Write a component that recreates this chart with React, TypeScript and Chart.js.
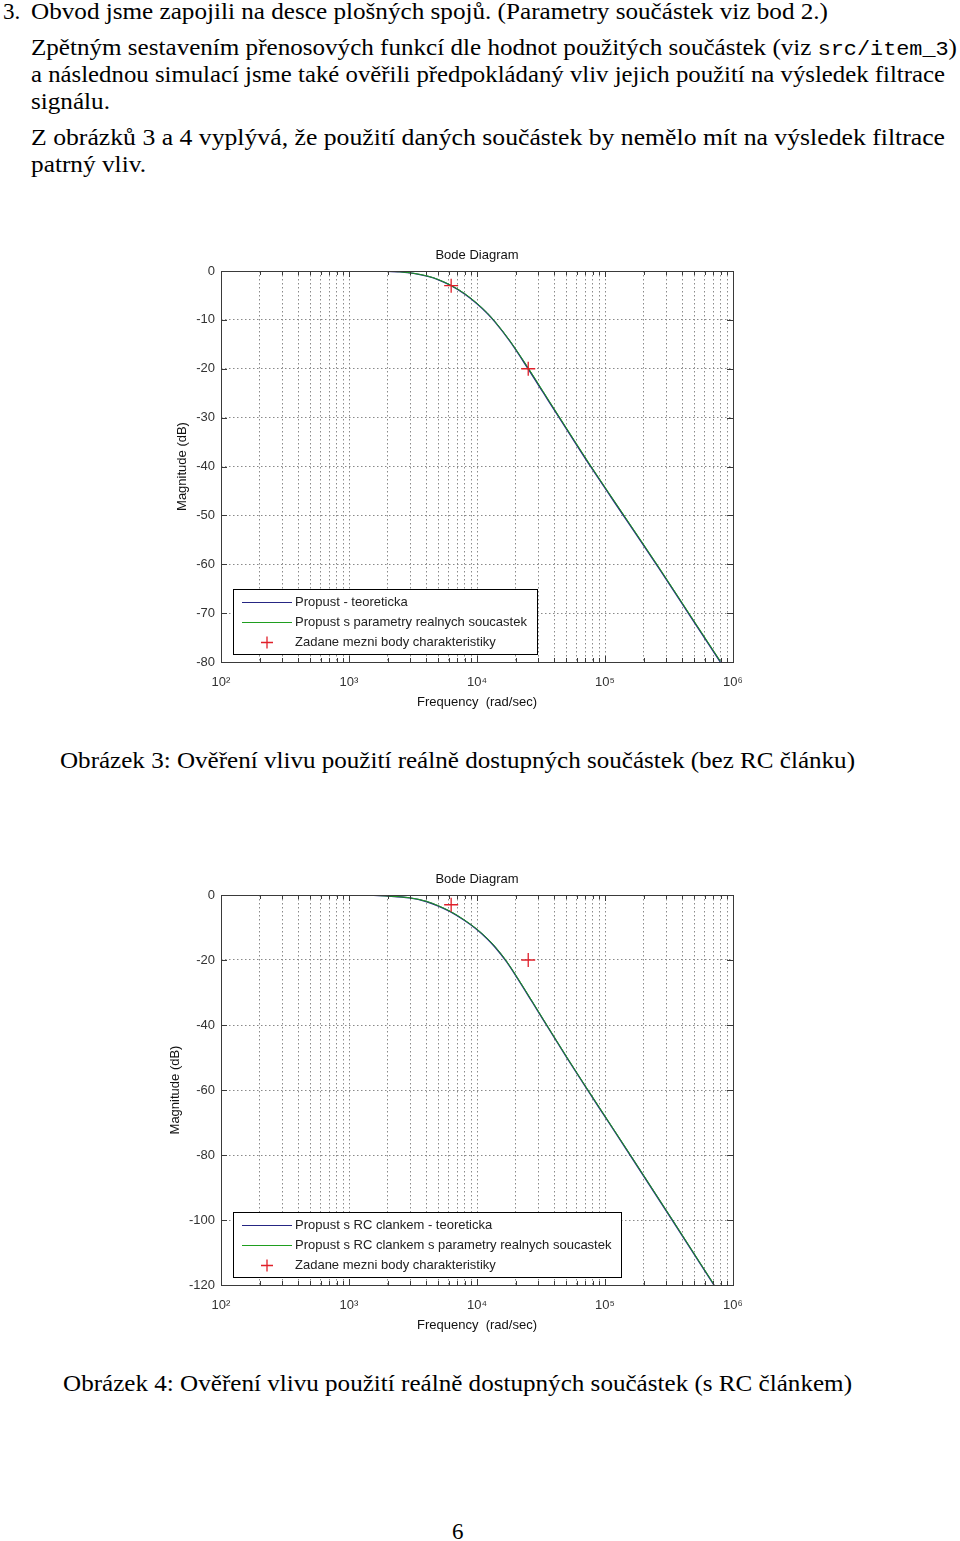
import React, { useEffect, useRef } from 'react';
import { Chart, registerables } from 'chart.js';

Chart.register(...registerables);

// ---------- DATA ----------
// Figure 3 (bez RC clanku)
const fig3Freq = [1800, 2500, 3200, 4140, 5000, 6283, 8000, 10000, 12000, 13800, 18000, 25100, 33000, 42900, 57800, 78100, 142600, 259000, 458000, 796000];
const fig3Teoreticka = [0, -0.17, -0.49, -1.1, -1.8, -3.0, -4.7, -6.7, -8.65, -10.4, -14.3, -20.0, -24.9, -29.6, -34.9, -40.2, -50.4, -60.5, -70.4, -80.0];
const fig3Realna = [0, -0.16, -0.47, -1.05, -1.75, -2.95, -4.6, -6.6, -8.55, -10.3, -14.2, -19.8, -24.7, -29.4, -34.7, -40.0, -50.2, -60.3, -70.2, -79.8];

// Figure 4 (s RC clankem)
const fig4Freq = [1380, 2000, 2970, 4000, 5000, 6180, 8000, 9860, 12000, 13800, 17000, 20600, 27000, 33900, 50600, 72000, 100000, 157000, 335000, 710000];
const fig4Teoreticka = [0, -0.3, -0.9, -2.0, -3.4, -5.15, -7.85, -10.45, -13.45, -16.0, -20.5, -25.5, -32.9, -39.2, -50.2, -59.6, -68.2, -80.0, -100.0, -120.0];
const fig4Realna = [0, -0.3, -0.85, -1.9, -3.3, -5.0, -7.7, -10.3, -13.3, -15.8, -20.3, -25.3, -32.7, -39.0, -50.0, -59.4, -68.0, -79.8, -99.8, -119.8];

// Zadane mezni body charakteristiky
const markerFreq = [6283, 25133];
const markerDb = [-3, -20];

// Axis ticks
const xTickValues = [
  100, 200, 300, 400, 500, 600, 700, 800, 900,
  1000, 2000, 3000, 4000, 5000, 6000, 7000, 8000, 9000,
  10000, 20000, 30000, 40000, 50000, 60000, 70000, 80000, 90000,
  100000, 200000, 300000, 400000, 500000, 600000, 700000, 800000, 900000,
  1000000,
];
const xMajorValues = [100, 1000, 10000, 100000, 1000000];
const xMajorLabels = ['10²', '10³', '10⁴', '10⁵', '10⁶'];

const fig3Labels = ['Propust - teoreticka', 'Propust s parametry realnych soucastek', 'Zadane mezni body charakteristiky'];
const fig4Labels = ['Propust s RC clankem - teoreticka', 'Propust s RC clankem s parametry realnych soucastek', 'Zadane mezni body charakteristiky'];

// ---------- STYLE ----------
const FONT = "'Liberation Sans', Arial, sans-serif";
const BLUE = '#262683';
const GREEN = '#1f9e1f';
const RED = '#e0202a';
const GRID = '#8a8a8a';
const TEXT = '#222';
const AXIS = '#3a3a3a';

const frameTicks = {
  id: 'frameTicks',
  afterDatasetsDraw(chart: any) {
    const { ctx, chartArea } = chart;
    const { left, right, top, bottom } = chartArea;
    const xs = chart.scales.x;
    const ys = chart.scales.y;
    ctx.save();
    ctx.strokeStyle = AXIS;
    ctx.lineWidth = 1;
    ctx.beginPath();
    xs.ticks.forEach((t: any) => {
      const px = Math.round(xs.getPixelForValue(t.value)) + 0.5;
      if (px <= left + 1 || px >= right - 1) return;
      const len = xMajorValues.includes(t.value) ? 6 : 4;
      ctx.moveTo(px, bottom);
      ctx.lineTo(px, bottom - len);
      ctx.moveTo(px, top);
      ctx.lineTo(px, top + len);
    });
    ys.ticks.forEach((t: any) => {
      const py = Math.round(ys.getPixelForValue(t.value)) + 0.5;
      if (py <= top + 1 || py >= bottom - 1) return;
      ctx.moveTo(left, py);
      ctx.lineTo(left + 6, py);
      ctx.moveTo(right, py);
      ctx.lineTo(right - 6, py);
    });
    ctx.stroke();
    ctx.strokeRect(Math.round(left) + 0.5, Math.round(top) + 0.5, Math.round(right - left), Math.round(bottom - top));
    ctx.restore();
  },
};

const plotTitle = {
  id: 'plotTitle',
  afterDraw(chart: any) {
    const { ctx, chartArea } = chart;
    const text = chart.options.plugins.plotTitle.text;
    ctx.save();
    ctx.font = `13px ${FONT}`;
    ctx.fillStyle = '#111';
    ctx.textAlign = 'center';
    ctx.textBaseline = 'middle';
    ctx.fillText(text, (chartArea.left + chartArea.right) / 2, chartArea.top - 15.5);
    ctx.restore();
  },
};

const matlabLegend = {
  id: 'matlabLegend',
  afterDraw(chart: any) {
    const { ctx, chartArea } = chart;
    const ds = chart.data.datasets;
    ctx.save();
    ctx.font = `13px ${FONT}`;
    const maxW = Math.max(...ds.map((d: any) => ctx.measureText(d.label).width));
    const boxL = Math.round(chartArea.left + 12);
    const boxB = Math.round(chartArea.bottom - 8);
    const boxH = 65;
    const boxT = boxB - boxH;
    const boxW = Math.round(62 + maxW + 10);
    ctx.fillStyle = '#fff';
    ctx.fillRect(boxL, boxT, boxW, boxH);
    ctx.strokeStyle = '#000';
    ctx.lineWidth = 1;
    ctx.strokeRect(boxL + 0.5, boxT + 0.5, boxW, boxH);
    ds.forEach((d: any, i: number) => {
      const y = boxT + 13.5 + i * 20;
      ctx.strokeStyle = d.borderColor;
      if (d.showLine === false) {
        ctx.lineWidth = 1.3;
        ctx.beginPath();
        ctx.moveTo(boxL + 34 - 6, y);
        ctx.lineTo(boxL + 34 + 6, y);
        ctx.moveTo(boxL + 34, y - 6);
        ctx.lineTo(boxL + 34, y + 6);
        ctx.stroke();
      } else {
        ctx.lineWidth = 1.2;
        ctx.beginPath();
        ctx.moveTo(boxL + 9, y);
        ctx.lineTo(boxL + 59, y);
        ctx.stroke();
      }
      ctx.fillStyle = TEXT;
      ctx.textBaseline = 'middle';
      ctx.textAlign = 'left';
      ctx.fillText(d.label, boxL + 62, y);
    });
    ctx.restore();
  },
};

type BodeProps = {
  left: number;
  top: number;
  freq: number[];
  theo: number[];
  real: number[];
  labels: string[];
  yMin: number;
  yStep: number;
  yTitlePad: number;
  plotTop: number;
  plotBottom: number;
};

function BodeChart(p: BodeProps) {
  const ref = useRef<HTMLCanvasElement>(null);
  useEffect(() => {
    const tickFont = { family: FONT, size: 13 };
    const chart = new Chart(ref.current as HTMLCanvasElement, {
      type: 'line',
      data: {
        datasets: [
          {
            label: p.labels[0],
            data: p.freq.map((f, i) => ({ x: f, y: p.theo[i] })),
            borderColor: BLUE,
            borderWidth: 1.4,
            pointRadius: 0,
            cubicInterpolationMode: 'monotone',
            order: 3,
          },
          {
            label: p.labels[1],
            data: p.freq.map((f, i) => ({ x: f, y: p.real[i] })),
            borderColor: GREEN,
            borderWidth: 1,
            pointRadius: 0,
            cubicInterpolationMode: 'monotone',
            order: 2,
          },
          {
            label: p.labels[2],
            data: markerFreq.map((f, i) => ({ x: f, y: markerDb[i] })),
            borderColor: RED,
            backgroundColor: RED,
            showLine: false,
            pointStyle: 'cross',
            pointRadius: 7,
            pointBorderWidth: 1.3,
            order: 1,
          },
        ] as any,
      },
      options: {
        animation: false,
        responsive: false,
        events: [],
        layout: { padding: { left: 0, right: 27, top: p.plotTop, bottom: 0 } },
        plugins: {
          legend: { display: false },
          tooltip: { enabled: false },
          title: { display: false },
          plotTitle: { text: 'Bode Diagram' },
        },
        scales: {
          x: {
            type: 'logarithmic',
            min: 100,
            max: 1000000,
            afterBuildTicks: (s: any) => {
              s.ticks = xTickValues.map((v) => ({ value: v }));
            },
            afterFit: (s: any) => {
              s.height = 480 - p.plotBottom;
            },
            ticks: {
              autoSkip: false,
              maxRotation: 0,
              minRotation: 0,
              padding: 13,
              color: '#333',
              font: tickFont,
              callback: (v: any) => {
                const idx = xMajorValues.indexOf(Number(v));
                return idx >= 0 ? xMajorLabels[idx] : '';
              },
            },
            grid: { color: GRID, lineWidth: 1, drawTicks: false, borderDash: [1.5, 2.5] } as any,
            border: { display: false, dash: [1.5, 2.5] },
            title: {
              display: true,
              text: 'Frequency  (rad/sec)',
              color: '#111',
              font: { family: FONT, size: 13 },
              padding: { top: 0, bottom: 10.2 },
            },
          },
          y: {
            type: 'linear',
            min: p.yMin,
            max: 0,
            afterFit: (s: any) => {
              s.width = 61;
            },
            ticks: {
              stepSize: p.yStep,
              padding: 6,
              color: '#333',
              font: tickFont,
              callback: (v: any) => String(v),
            },
            grid: { color: GRID, lineWidth: 1, drawTicks: false, borderDash: [1.5, 2.5] } as any,
            border: { display: false, dash: [1.5, 2.5] },
            title: {
              display: true,
              text: 'Magnitude (dB)',
              color: '#111',
              font: { family: FONT, size: 13 },
              padding: { top: p.yTitlePad, bottom: 0 },
            },
          },
        },
      } as any,
      plugins: [frameTicks, plotTitle, matlabLegend],
    });
    return () => chart.destroy();
  }, []);
  return (
    <canvas
      ref={ref}
      width={600}
      height={480}
      style={{ position: 'absolute', left: p.left, top: p.top, width: 600, height: 480 }}
    />
  );
}

const serif = "'Liberation Serif', 'Times New Roman', serif";
const mono = "'Liberation Mono', 'Courier New', monospace";

export default function App() {
  return (
    <div style={{ position: 'absolute', left: 0, top: 0, width: 960, height: 1541, background: '#fff', overflow: 'hidden' }}>
      <svg width={960} height={1541} style={{ position: 'absolute', left: 0, top: 0 }}>
        <g fontFamily={serif} fontSize={23} fill="#000">
          <text x={3} y={18.5}>3.</text>
          <text x={31} y={18.5} textLength={797} lengthAdjust="spacingAndGlyphs">
            Obvod jsme zapojili na desce plošných spojů. (Parametry součástek viz bod 2.)
          </text>
          <text x={31} y={55} textLength={926} lengthAdjust="spacingAndGlyphs">
            Zpětným sestavením přenosových funkcí dle hodnot použitých součástek (viz{' '}
            <tspan fontFamily={mono} fontSize={20}>src/item_3</tspan>)
          </text>
          <text x={31} y={82} textLength={914} lengthAdjust="spacingAndGlyphs">
            a následnou simulací jsme také ověřili předpokládaný vliv jejich použití na výsledek filtrace
          </text>
          <text x={31} y={108.5} textLength={79} lengthAdjust="spacingAndGlyphs">
            signálu.
          </text>
          <text x={31} y={145} textLength={914} lengthAdjust="spacingAndGlyphs">
            Z obrázků 3 a 4 vyplývá, že použití daných součástek by nemělo mít na výsledek filtrace
          </text>
          <text x={31} y={172} textLength={115} lengthAdjust="spacingAndGlyphs">
            patrný vliv.
          </text>
          <text x={60} y={768} textLength={795} lengthAdjust="spacingAndGlyphs">
            Obrázek 3: Ověření vlivu použití reálně dostupných součástek (bez RC článku)
          </text>
          <text x={63} y={1391} textLength={789} lengthAdjust="spacingAndGlyphs">
            Obrázek 4: Ověření vlivu použití reálně dostupných součástek (s RC článkem)
          </text>
          <text x={452} y={1539}>6</text>
        </g>
      </svg>
      <BodeChart
        left={160}
        top={240}
        freq={fig3Freq}
        theo={fig3Teoreticka}
        real={fig3Realna}
        labels={fig3Labels}
        yMin={-80}
        yStep={10}
        yTitlePad={14.2}
        plotTop={31}
        plotBottom={422}
      />
      <BodeChart
        left={160}
        top={863}
        freq={fig4Freq}
        theo={fig4Teoreticka}
        real={fig4Realna}
        labels={fig4Labels}
        yMin={-120}
        yStep={20}
        yTitlePad={7.2}
        plotTop={32}
        plotBottom={422}
      />
    </div>
  );
}
